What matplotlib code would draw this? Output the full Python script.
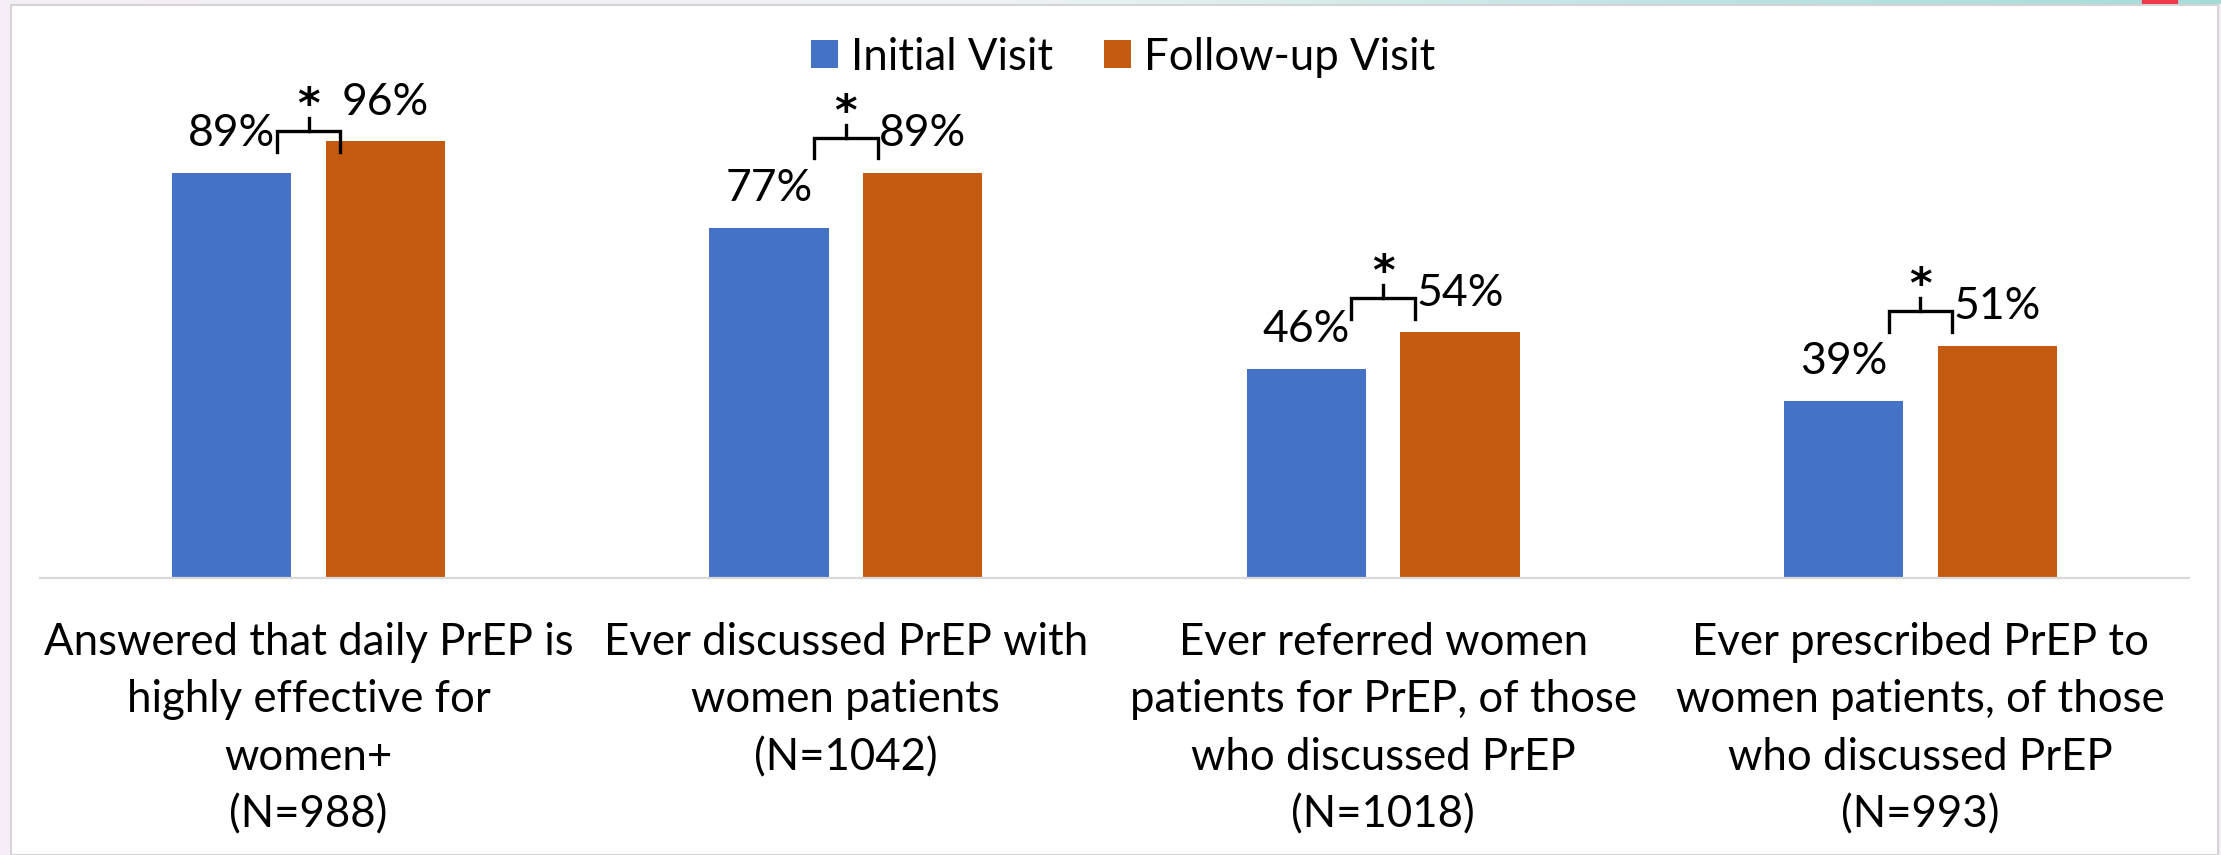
import numpy as np
import matplotlib.pyplot as plt
from matplotlib.patches import Rectangle
from matplotlib.colors import LinearSegmentedColormap

categories = [
    "Answered that daily PrEP is\nhighly effective for\nwomen+\n(N=988)",
    "Ever discussed PrEP with\nwomen patients\n(N=1042)",
    "Ever referred women\npatients for PrEP, of those\nwho discussed PrEP\n(N=1018)",
    "Ever prescribed PrEP to\nwomen patients, of those\nwho discussed PrEP\n(N=993)",
]
initial = [89, 77, 46, 39]
followup = [96, 89, 54, 51]
series_names = ["Initial Visit", "Follow-up Visit"]
# height of the significance bracket (in % units) for each group
bracket_y = [98.3, 96.8, 61.6, 58.7]

blue = "#4472C4"
orange = "#C55A11"
font = "Lato"

W, H = 2221, 855
fig = plt.figure(figsize=(W / 100, H / 100), dpi=100)
fig.patch.set_facecolor("#f6edf8")

# white slide panel with a thin grey border
panel = Rectangle((11 / W, 0), (2218 - 11) / W, (H - 5) / H, transform=fig.transFigure,
                  facecolor="white", edgecolor="#d4d4d4", lw=1.5, zorder=-5)
fig.patches.append(panel)

# thin decorative strip at the top
strip = fig.add_axes([0, 1 - 4 / H, 1, 4 / H])
cmap = LinearSegmentedColormap.from_list("strip", [(0, "#f5eef7"), (0.45, "#eef3f5"),
                                                   (0.75, "#bfe4e2"), (1, "#a6dcd8")])
strip.imshow(np.linspace(0, 1, 256)[None, :], aspect="auto", cmap=cmap, extent=(0, 1, 0, 1))
strip.add_patch(Rectangle((2142 / W, 0), 35 / W, 1, color="#f03a4a"))
strip.set_xlim(0, 1)
strip.axis("off")

ax = fig.add_axes([40 / W, (H - 578) / H, (2189 - 40) / W, 546 / H])
ax.set_facecolor("none")

x = np.arange(len(categories))
off = 0.143
bw = 0.222
b1 = ax.bar(x - off, initial, bw, color=blue, label=series_names[0])
b2 = ax.bar(x + off, followup, bw, color=orange, label=series_names[1])

ax.set_xlim(-0.5, len(categories) - 0.5)
ax.set_ylim(0, 120)

for i in range(len(categories)):
    ax.text(x[i] - off, initial[i] + 8.6, f"{initial[i]}%", ha="center", va="center",
            fontsize=32, family=font)
    ax.text(x[i] + off, followup[i] + 8.6, f"{followup[i]}%", ha="center", va="center",
            fontsize=32, family=font)
    # significance bracket
    y0 = bracket_y[i]
    hw = 0.059
    ax.plot([x[i] - hw, x[i] - hw, x[i] + hw, x[i] + hw],
            [y0 - 4.6, y0, y0, y0 - 4.6], color="black", lw=2.4, clip_on=False,
            solid_joinstyle="miter")
    ax.plot([x[i], x[i]], [y0, y0 + 2.8], color="black", lw=2.4, clip_on=False)
    ax.text(x[i], y0 + 5.4, "*", ha="center", va="center", fontsize=31,
            fontweight="bold", family="DejaVu Sans")

# category labels under the axis
trans = ax.get_xaxis_transform()
for i, lab in enumerate(categories):
    ax.text(x[i], -0.08, lab, transform=trans, ha="center", va="top",
            fontsize=31.5, family=font, linespacing=1.5)

for s in ["top", "right", "left"]:
    ax.spines[s].set_visible(False)
ax.spines["bottom"].set_color("#d9d9d9")
ax.spines["bottom"].set_linewidth(1.6)
ax.set_yticks([])
ax.set_xticks([])

ax.legend(loc="center", bbox_to_anchor=(0.504, 0.954), ncol=2, frameon=False,
          prop={"family": font, "size": 31.5}, handlelength=0.62, handleheight=0.62,
          handletextpad=0.3, columnspacing=1.15)

fig.savefig("out.png", dpi=100)
